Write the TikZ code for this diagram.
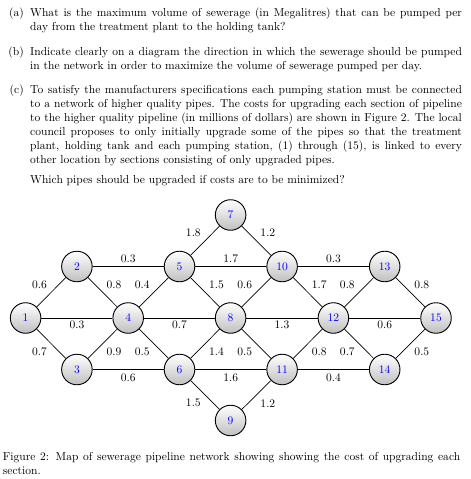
\documentclass[tikz,border=0pt]{standalone}
\begin{document}
\begin{tikzpicture}[x=0.8673pt, y=-0.8673pt,
  stn/.style={circle, draw=black, line width=0.8pt, minimum size=26.5pt, inner sep=0pt,
              top color=white, bottom color=black!25, text=blue, font=\fontsize{10}{12}\selectfont},
  pipe/.style={line width=0.6pt, black},
  lab/.style={midway, inner sep=0pt, text=black, font=\fontsize{10}{12}\selectfont},
  labN/.style={lab, shift={(0,-7.7)}},
  labS/.style={lab, shift={(0,6.3)}},
  labSS/.style={lab, shift={(0,8.2)}},
  labNW/.style={lab, shift={(-11.7,-7.6)}},
  labNE/.style={lab, shift={(11.5,-7.6)}},
  labSW/.style={lab, shift={(-11.7,8.2)}},
  labSE/.style={lab, shift={(11.5,8.2)}},
  body/.style={inner sep=0pt, anchor=base west, text width=374.4pt, align=justify,
               font=\fontsize{10}{12.14}\selectfont},
  itemlab/.style={inner sep=0pt, anchor=base east, font=\fontsize{10}{12}\selectfont},
  capt/.style={inner sep=0pt, anchor=base west, text width=396.6pt, align=justify,
               font=\fontsize{10}{12.14}\selectfont}]
\useasboundingbox (0,0) rectangle (470,479);

% question text
\node[itemlab] (la) at (24,16.7) {(a)};
\node[body] (ta) at (30,16.7) {What is the maximum volume of sewerage (in Megalitres) that can be pumped per\linebreak
day from the treatment plant to the holding tank?};
\node[itemlab] (lb) at (24,55.2) {(b)};
\node[body] (tb) at (30,55.2) {Indicate clearly on a diagram the direction in which the sewerage should be pumped\linebreak
in the network in order to maximize the volume of sewerage pumped per day.};
\node[itemlab] (lc) at (24,93.6) {(c)};
\node[body] (tc) at (30,93.6) {To satisfy the manufacturers specifications each pumping station must be connected\linebreak
to a network of higher quality pipes. The costs for upgrading each section of pipeline\linebreak
to the higher quality pipeline (in millions of dollars) are shown in Figure 2. The local\linebreak
council proposes to only initially upgrade some of the pipes so that the treatment\linebreak
plant, holding tank and each pumping station, (1) through (15), is linked to every\linebreak
other location by sections consisting of only upgraded pipes.};
\node[body] (tq) at (30,183) {Which pipes should be upgraded if costs are to be minimized?};

% stations
\node[stn] (n1)  at (25.6,318)   {1};
\node[stn] (n2)  at (76.9,266.5) {2};
\node[stn] (n3)  at (76.9,369.5) {3};
\node[stn] (n4)  at (128.2,318)  {4};
\node[stn] (n5)  at (179.5,266.5) {5};
\node[stn] (n6)  at (179.5,369.5) {6};
\node[stn] (n7)  at (230.6,215)  {7};
\node[stn] (n8)  at (230.6,318)  {8};
\node[stn] (n9)  at (230.6,420.5) {9};
\node[stn] (n10) at (282.1,266.5) {10};
\node[stn] (n11) at (282.1,369.5) {11};
\node[stn] (n12) at (333.4,318)  {12};
\node[stn] (n13) at (384.7,266.5) {13};
\node[stn] (n14) at (384.7,369.5) {14};
\node[stn] (n15) at (436,318)    {15};

% pipes
\draw[pipe] (n1) -- node[labNW] {0.6} (n2);
\draw[pipe] (n1) -- node[labS] {0.3} (n4);
\draw[pipe] (n1) -- node[labSW] {0.7} (n3);
\draw[pipe] (n2) -- node[labN] {0.3} (n5);
\draw[pipe] (n2) -- node[labNE] {0.8} (n4);
\draw[pipe] (n3) -- node[labSE] {0.9} (n4);
\draw[pipe] (n3) -- node[labSS] {0.6} (n6);
\draw[pipe] (n4) -- node[labNW] {0.4} (n5);
\draw[pipe] (n4) -- node[labS] {0.7} (n8);
\draw[pipe] (n4) -- node[labSW] {0.5} (n6);
\draw[pipe] (n5) -- node[labNW] {1.8} (n7);
\draw[pipe] (n5) -- node[labN] {1.7} (n10);
\draw[pipe] (n5) -- node[labNE] {1.5} (n8);
\draw[pipe] (n6) -- node[labSE] {1.4} (n8);
\draw[pipe] (n6) -- node[labSS] {1.6} (n11);
\draw[pipe] (n6) -- node[labSW] {1.5} (n9);
\draw[pipe] (n7) -- node[labNE] {1.2} (n10);
\draw[pipe] (n8) -- node[labNW] {0.6} (n10);
\draw[pipe] (n8) -- node[labS] {1.3} (n12);
\draw[pipe] (n8) -- node[labSW] {0.5} (n11);
\draw[pipe] (n9) -- node[labSE] {1.2} (n11);
\draw[pipe] (n10) -- node[labN] {0.3} (n13);
\draw[pipe] (n10) -- node[labNE] {1.7} (n12);
\draw[pipe] (n11) -- node[labSE] {0.8} (n12);
\draw[pipe] (n11) -- node[labSS] {0.4} (n14);
\draw[pipe] (n12) -- node[labNW] {0.8} (n13);
\draw[pipe] (n12) -- node[labS] {0.6} (n15);
\draw[pipe] (n12) -- node[labSW] {0.7} (n14);
\draw[pipe] (n13) -- node[labNE] {0.8} (n15);
\draw[pipe] (n14) -- node[labSE] {0.5} (n15);

% caption
\node[capt] (cap) at (2.7,460) {Figure 2: Map of sewerage pipeline network showing showing the cost of upgrading each\linebreak
section.};
\end{tikzpicture}
\end{document}
